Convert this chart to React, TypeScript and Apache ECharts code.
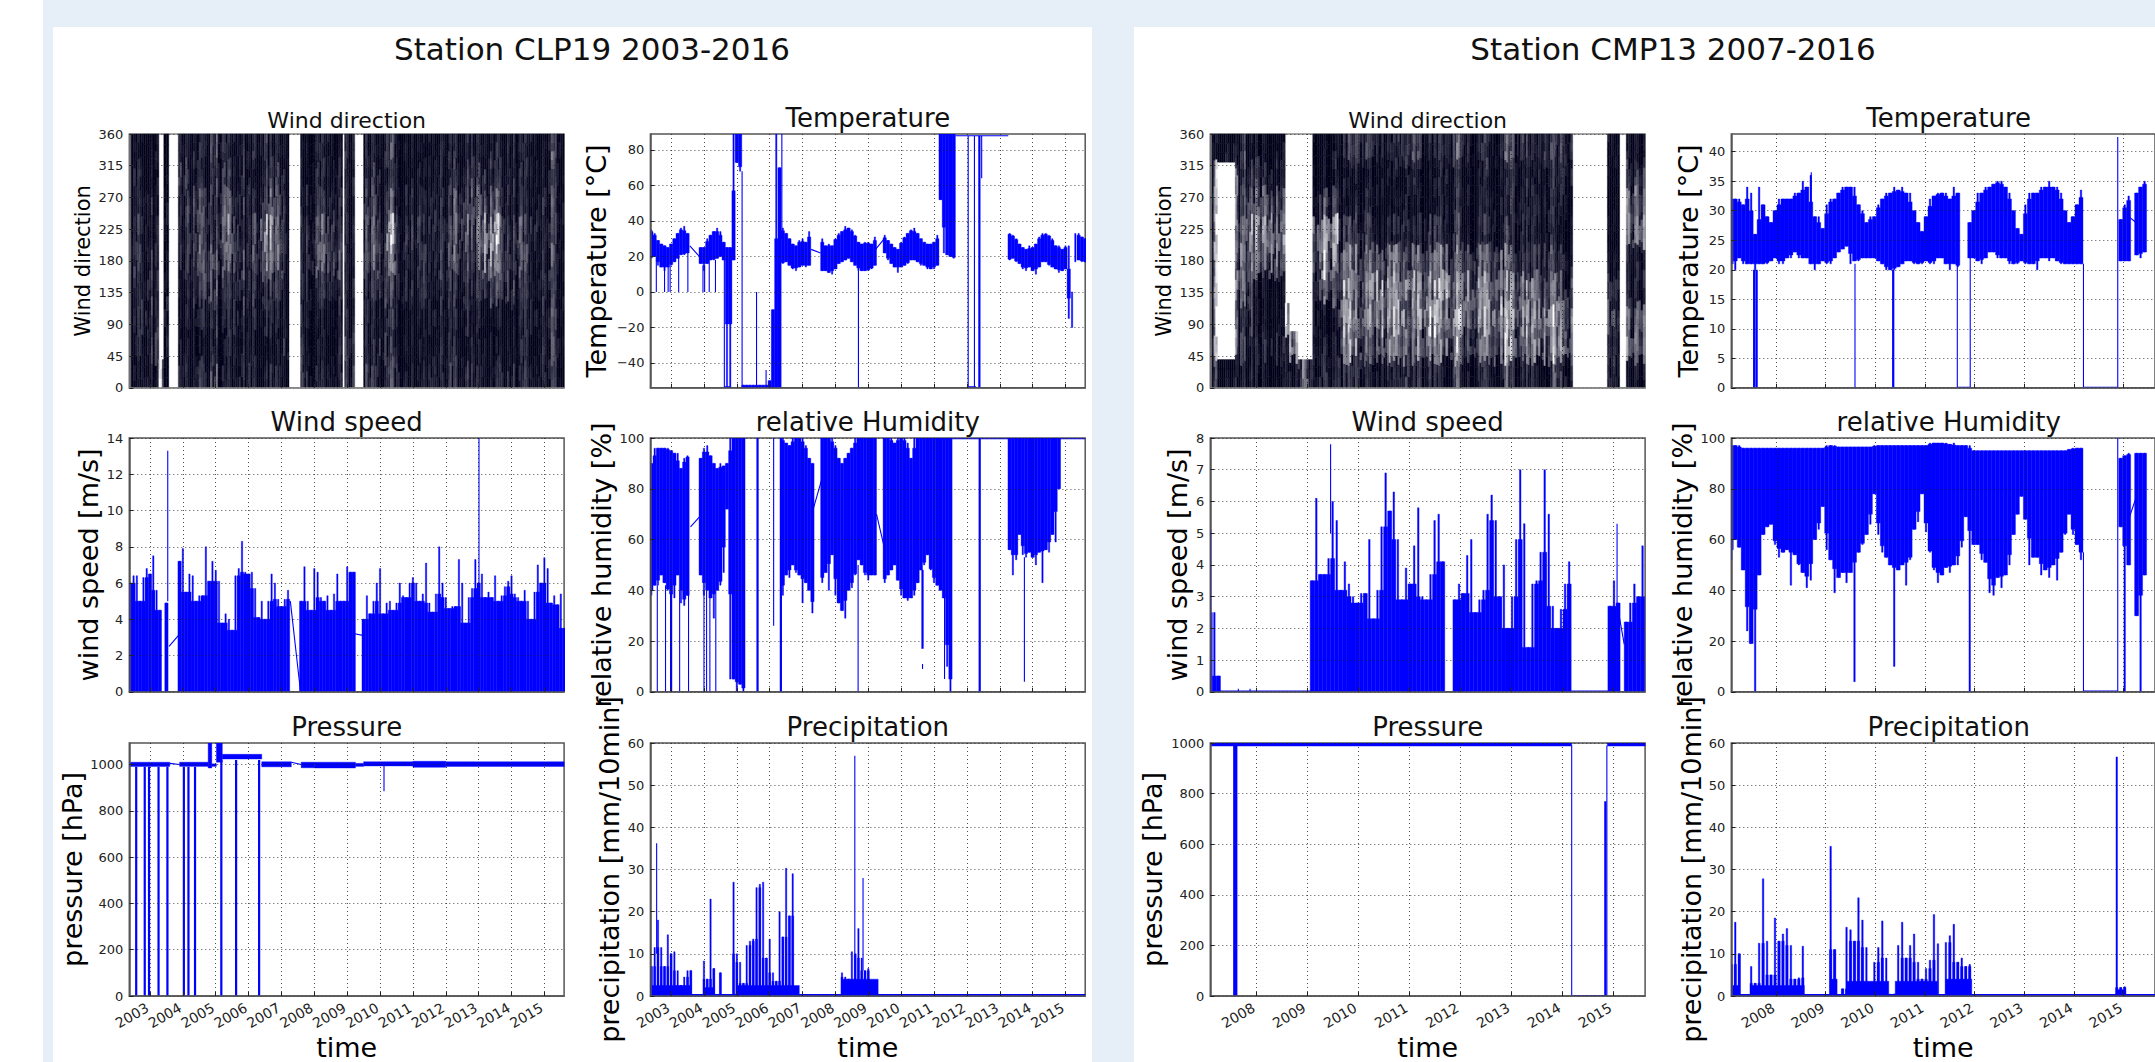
import React, { useEffect, useRef } from "react";
import * as echarts from "echarts";

// ---------- axes ----------
const clpRange = [2002.37, 2015.6];
const cmpRange = [2007.1, 2015.63];
const clpYears = [2003, 2004, 2005, 2006, 2007, 2008, 2009, 2010, 2011, 2012, 2013, 2014, 2015];
const cmpYears = [2008, 2009, 2010, 2011, 2012, 2013, 2014, 2015];
const dirTicks = [0, 45, 90, 135, 180, 225, 270, 315, 360];
const clpStep = 0.1;
const cmpStep = 0.08;

// ---------- wind direction: share of the sector filled with points (0-9), per period, bottom sector first ----------
const dirRowEdges = [0, 40, 80, 120, 160, 200, 240, 280, 320, 360];
const clpDirStarts = [2002.37, 2002.57, 2002.74, 2002.92, 2003.09, 2003.27, 2003.42, 2003.57, 2003.86, 2004.14, 2004.37, 2004.61, 2004.84, 2005.07, 2005.31, 2005.54, 2005.71, 2005.89, 2006.12, 2006.36, 2006.59, 2006.82, 2007.06, 2007.23, 2007.58, 2007.75, 2007.93, 2008.16, 2008.4, 2008.63, 2008.86, 2008.92, 2009.23, 2009.5, 2009.74, 2009.97, 2010.2, 2010.49, 2010.78, 2011.02, 2011.25, 2011.48, 2011.72, 2012.01, 2012.24, 2012.47, 2012.71, 2012.94, 2013.17, 2013.41, 2013.64, 2013.87, 2014.11, 2014.34, 2014.57, 2014.81, 2015.13, 2015.27, 2015.5, 2015.6];
const clpDirCols = ["998878889", "988877889", "887888899", "877778899", "978888999", "100000000", "877788889", "000000000", "899988878", "898776688", "798756678", "898667798", "687657776", "898765577", "888754578", "877756788", "787767777", "899888899", "898766898", "898743677", "898743578", "898755678", "878887788", "000000000", "778888999", "898877899", "899866788", "899755788", "899756788", "888867889", "000000000", "778888888", "000000000", "788866788", "788755678", "878677888", "677632576", "899888999", "999887899", "999887899", "899778899", "788877788", "888877888", "788766788", "788755578", "798765678", "889876678", "898754578", "899632578", "899632578", "899766889", "899777888", "888765788", "788767888", "898887888", "888888899", "665655565", "777777777", "888888888"];
const cmpDirStarts = [2007.1, 2007.17, 2007.24, 2007.59, 2007.65, 2007.77, 2007.8, 2007.94, 2008.12, 2008.29, 2008.43, 2008.57, 2008.65, 2008.82, 2009.03, 2009.11, 2009.24, 2009.45, 2009.55, 2009.62, 2009.66, 2009.8, 2009.94, 2010.08, 2010.22, 2010.36, 2010.5, 2010.64, 2010.78, 2010.92, 2011.02, 2011.16, 2011.3, 2011.44, 2011.58, 2011.72, 2011.86, 2012.0, 2012.14, 2012.28, 2012.42, 2012.56, 2012.7, 2012.84, 2012.98, 2013.12, 2013.26, 2013.4, 2013.54, 2013.68, 2013.82, 2013.96, 2014.1, 2014.21, 2014.89, 2015.05, 2015.13, 2015.26, 2015.63];
const cmpDirCols = ["877777778", "622222229", "900000009", "712222227", "978545788", "878565666", "887643579", "989943579", "989953589", "989943589", "989954689", "992000000", "930000000", "400000000", "800000000", "878754899", "789522699", "899532699", "899742789", "565566788", "843347998", "732346996", "533346785", "854457897", "964358997", "953359998", "843358998", "843348998", "732347896", "523246775", "854358986", "743358997", "732357998", "842347998", "843247887", "943158887", "522346775", "963469997", "964469998", "853358898", "743357887", "843458898", "953459998", "522346885", "733368776", "854478897", "843478887", "843478898", "943578887", "953568887", "522478876", "733679876", "844689987", "000000000", "765689998", "876789998", "000000000", "945884479"];
// fixed tone offsets that break a sector cell into fine streaks, as the dense points do in the picture
const streakTones = [0.25, -0.2, 0.1, -0.35, 0.2, 0, -0.15, 0.3, -0.25, 0.15, -0.05, 0.12, -0.3];

// ---------- CLP19 temperature ----------
const clpTempStarts = [2002.4, 2003.9, 2005.2, 2006.0, 2006.4, 2007.6, 2009.5, 2011.2, 2013.3];
const clpTempHi = [
  [35, 33, 29, 27, 26, 25, 27, 30, 33, 36, 37, 33],
  [25, 25, 30, 32, 34, 36, 34, 28, 25, 25, 89, 89, 89],
  [-52.5, -52.5, -52.5, -52.5, -52.5, -52.5, -52.5, -52.5],
  [-50, -10, 89, 70],
  [36, 33, 30, 27, 26, 29, 30, 28, 34],
  [30, 26, 27, 26, 30, 33, 34, 37, 36, 35, 32, 28, 27, 28, 28, 27, 31],
  [32, 29, 27, 25, 24, 28, 31, 33, 35, 36, 33, 30, 28, 27, 27, 28, 32],
  [89, 89, 89, 89, 89],
  [33, 32, 30, 27, 25, 24, 26, 25, 27, 31, 33, 33, 32, 30, 26, 26, 24, 26, 26, 0, 33, 33, 31, 30],
];
const clpTempLo = [
  [19, 20, 15, 14, 12, 14, 15, 17, 19, 21, 21, 22],
  [16, 12, 16, 18, 18, 19, 20, 18, -54, -54, 18, 73, 68],
  [-54, -54, -54, -54, -54, -54, -54, -54],
  [-54, -54, -54, -54],
  [16, 17, 15, 13, 12, 14, 15, 14, 15],
  [12, 12, 11, 10, 13, 16, 17, 18, 19, 17, 15, 12, 12, 12, 12, 13, 15],
  [22, 18, 16, 14, 11, 14, 15, 16, 18, 18, 17, 15, 15, 13, 13, 13, 15],
  [52, 22, 21, 20, 19],
  [18, 19, 17, 16, 13, 12, 14, 12, 10, 14, 17, 17, 15, 14, 13, 11, 12, 13, -15, -20, 17, 18, 17, 17],
];
const clpTempLines = [
  [[2002.55, 20], [2002.55, 0]], [[2002.8, 20], [2002.8, 0]], [[2002.91, 15], [2002.91, 0]], [[2002.97, 15], [2002.97, 0]],
  [[2003.23, 20], [2003.23, 0]], [[2003.51, 22], [2003.51, 0]], [[2003.97, 15], [2003.97, 0]], [[2004.02, 15], [2004.02, 0]],
  [[2004.16, 18], [2004.16, 0]], [[2004.35, 18], [2004.35, 0]],
  [[2003.57, 26], [2003.86, 20]], [[2004.62, 20], [2004.62, -53.5], [2004.82, -53.5]],
  [[2005.16, 68], [2005.16, -54]], [[2005.6, 0], [2005.6, -54]], [[2005.89, -44], [2005.89, -54]],
  [[2006.37, 89], [2006.37, 30]], [[2008.7, 12], [2008.7, -54]],
  [[2007.26, 24], [2007.55, 22]], [[2009.22, 24], [2009.49, 30]],
  [[2011.66, 88], [2013.26, 88]], [[2012.04, 88], [2012.04, -53.5], [2012.28, -53.5]], [[2012.23, 88], [2012.23, -53.5]],
  [[2012.45, 88], [2012.45, 64]],
];
const clpTempThick = [[[2012.38, 88], [2012.38, -54]]];

// ---------- CLP19 wind speed ----------
const clpWindStarts = [2002.4, 2003.5, 2003.9, 2007.6, 2009.5];
const clpWindHi = [
  [6.0, 6.4, 6.4, 5.0, 6.3, 6.8, 6.5, 7.5, 5.6, 4.5],
  [4.9],
  [7.2, 7.9, 5.5, 6.5, 6.4, 5, 5.3, 5.3, 8, 6.1, 7.2, 6.7, 6.1, 3.8, 4.3, 4, 3.4, 6.4, 6.8, 8.3, 6.6, 6.5, 6.6, 5.7, 4.1, 5, 4, 5, 6.5, 6, 5.1, 4.7, 5.1, 5.6],
  [5, 6.9, 5, 4.5, 6.8, 6.6, 5.2, 5, 5.3, 4.5, 5.4, 6.5, 5, 5, 6.9, 6.6, 6.6],
  [4, 5.3, 4.3, 5, 6, 6.8, 4.3, 4.9, 5, 4.5, 4.9, 6, 5.3, 5.2, 6, 6.3, 6, 5, 5.4, 7.1, 4.9, 4.4, 5.4, 8, 6, 5.2, 4.6, 4.7, 4.7, 7.3, 6, 3.8, 5.2, 5.7, 7.3, 6, 6.5, 5.2, 5.5, 5.2, 6.4, 5, 5.3, 5.8, 6.1, 6.4, 5.4, 5.2, 5, 5.6, 5, 4, 5.5, 7, 6, 7.4, 6.8, 4.9, 5.3, 4.8, 5.4, 3.5],
];
const clpWindLines = [
  [[2003.54, 5], [2003.54, 13.3]], [[2013.01, 6], [2013.01, 14]],
  [[2003.58, 2.5], [2003.86, 3.1]], [[2007.27, 5], [2007.58, 0]], [[2009.23, 3.2], [2009.51, 3.1]],
];

// ---------- CLP19 pressure ----------
const clpPressBands = [
  [2002.37, 2003.6, 992, 1010], [2003.9, 2004.77, 992, 1010], [2004.77, 2004.88, 985, 1093], [2004.88, 2005.02, 992, 1003],
  [2005.02, 2005.2, 1010, 1093], [2005.2, 2006.4, 1024, 1044], [2006.4, 2007.3, 990, 1012], [2007.6, 2008.0, 986, 1010],
  [2008.0, 2009.25, 985, 1010], [2009.25, 2009.5, 992, 1005], [2009.5, 2011.0, 994, 1012], [2011.0, 2012.0, 988, 1014], [2012.0, 2015.6, 992, 1012],
];
const clpPressLines = [
  [[2003.6, 1005], [2003.9, 1000]], [[2007.3, 1010], [2007.6, 1000]], [[2010.12, 1000], [2010.12, 885]],
];
const clpPressThick = [
  [[2002.58, 990], [2002.58, 0]], [[2002.84, 990], [2002.84, 0]], [[2002.97, 990], [2002.97, 0]], [[2003.26, 990], [2003.26, 0]],
  [[2003.53, 990], [2003.53, 0]], [[2004.03, 990], [2004.03, 0]], [[2004.17, 990], [2004.17, 0]], [[2004.37, 990], [2004.37, 0]],
  [[2005.17, 1020], [2005.17, 0]], [[2005.62, 1020], [2005.62, 0]], [[2006.32, 1020], [2006.32, 0]],
];

// ---------- CLP19 relative humidity ----------
const clpHumStarts = [2002.4, 2003.9, 2006.4, 2007.6, 2009.5, 2013.3];
const clpHumHi = [
  [90, 96, 96, 96, 96, 96, 95, 94, 94, 88, 92, 93],
  [92, 96, 97, 93, 90, 88, 90, 89, 90, 100, 100, 100, 100, 100],
  [100, 98, 97, 100, 100, 100, 100, 97, 92, 90],
  [100, 100, 100, 100, 97, 92, 90, 92, 94, 96, 100, 100, 100, 100, 100, 100, 100],
  [100, 100, 100, 98, 100, 100, 100, 98, 92, 100, 100, 100, 100, 100, 100, 100, 100, 100, 100, 100, 100],
  [100, 100, 100, 100, 100, 100, 100, 100, 100, 100, 100, 100, 100, 100, 100, 100],
];
const clpHumLo = [
  [38, 42, 42, 46, 43, 40, 38, 37, 46, 35, 34, 38],
  [46, 38, 40, 37, 29, 40, 42, 47, 72, 5, 5, 0, 3, 0],
  [38, 46, 45, 50, 47, 46, 35, 43, 40, 31],
  [43, 47, 40, 54, 38, 35, 32, 29, 40, 41, 46, 52, 50, 46, 44, 46, 46],
  [43, 46, 48, 50, 44, 38, 37, 36, 37, 38, 43, 48, 50, 54, 48, 43, 42, 40, 37, 10, 0],
  [56, 46, 52, 62, 54, 53, 55, 53, 50, 55, 43, 56, 55, 62, 59, 80],
];
const clpHumLines = [
  [[2002.58, 42], [2002.58, 0]], [[2002.83, 42], [2002.83, 0]], [[2003.26, 40], [2003.26, 0]], [[2003.53, 40], [2003.53, 0]],
  [[2004.0, 40], [2004.0, 0]], [[2004.08, 40], [2004.08, 0]], [[2004.18, 40], [2004.18, 0]], [[2004.36, 40], [2004.36, 0]],
  [[2006.12, 100], [2006.12, 26]], [[2008.69, 50], [2008.69, 0]], [[2010.65, 11], [2010.65, 9]], [[2011.32, 37], [2011.32, 5]], [[2013.75, 53], [2013.75, 4]],
  [[2003.59, 65], [2003.87, 69]], [[2007.28, 70], [2007.59, 84]], [[2009.25, 70], [2009.52, 55]],
  [[2011.55, 99.7], [2013.3, 99.7]], [[2014.82, 99.7], [2015.6, 99.7]],
];
const clpHumThick = [
  [[2003.0, 40], [2003.0, 0]], [[2005.63, 100], [2005.63, 0]], [[2006.34, 100], [2006.34, 0]], [[2010.65, 48], [2010.65, 17]], [[2012.39, 100], [2012.39, 0]],
];

// ---------- CLP19 precipitation ----------
const clpRainStarts = [2002.4, 2004.0, 2004.5, 2004.9, 2008.2];
const clpRainHi = [
  [7, 11.5, 18, 11.5, 7, 14.5, 10, 10.5, 6, 2.5, 4.5, 6, 6],
  [8.3, 4, 23, 6.5],
  [5.5],
  [27, 10, 8, 3, 12, 13, 13.5, 25.7, 26.5, 27, 9, 13.5, 5.5, 3.5, 20, 14, 30.3, 19, 29],
  [5.5, 4.5, 4, 10.5, 10, 16, 9, 6, 6.5],
];
const clpRainBase = [[2002.4, 2003.6, 0, 2.5], [2004.0, 2004.3, 0, 2], [2005.0, 2006.9, 0, 2.5], [2008.2, 2009.3, 0, 4]];
const clpRainLines = [[[2002.56, 10], [2002.56, 36.2]], [[2008.59, 10], [2008.59, 57]], [[2008.84, 6], [2008.84, 28]]];
const clpRainThick = [[[2002.37, 0.2], [2015.6, 0.2]]];

// ---------- CMP13 temperature ----------
const cmpTempStarts = [2007.1, 2011.9, 2014.94, 2015.26];
const cmpTempHi = [
  [32, 32, 32, 31, 34, 33, 26, 34, 31, 29, 28, 30, 32, 32, 32, 32, 33, 33, 35, 34, 36, 29, 29, 27, 31, 32, 32, 33, 34, 34, 34, 34, 31, 30, 28, 29, 29, 31, 32, 33, 33, 34, 33.5, 34, 33, 33, 30, 28, 26.5, 29, 32, 32.5, 33, 33, 33, 32, 34, 33],
  [28, 30, 33, 33, 34, 34, 34.5, 35, 35, 34, 33, 30, 27, 26, 31, 33, 33, 33, 34, 34, 35, 34, 34, 33, 30, 28, 29, 31, 33.5],
  [28.5, 31, 32.5],
  [33, 34, 35],
];
const cmpTempLo = [
  [21, 20, 22, 21, 21, 21, 20, 21, 21, 21, 21.5, 22, 21, 21, 22, 22, 23, 22, 22, 22, 21, 20, 21, 21.5, 21, 21, 22, 23, 23.5, 24, 21, 21.5, 21.5, 22, 22, 22, 22, 21.5, 21, 20, 20, 20, 20.5, 21, 21.5, 21.5, 21, 21, 21, 21.5, 21, 21, 22, 22, 21, 20, 21, 20.5],
  [22, 22, 21.5, 21, 22, 23, 23, 22, 22, 22, 21, 21, 21, 21.5, 21, 21, 21, 20, 22, 22, 21.5, 22, 21.5, 21, 21, 21, 21, 21, 21],
  [21.5, 21.5, 21.5],
  [22.5, 22, 23],
];
const cmpTempLines = [
  [[2009.59, 21], [2009.59, 0]], [[2010.36, 20], [2010.36, 0]],
  [[2011.65, 21], [2011.65, 0.1], [2011.91, 0.1], [2011.91, 22]],
  [[2014.19, 21], [2014.19, 0.1], [2014.88, 0.1], [2014.88, 42.5]],
  [[2008.71, 30], [2008.71, 36.5]], [[2015.1, 29], [2015.25, 28]],
];
const cmpTempThick = [[[2007.56, 20], [2007.56, 0]], [[2007.61, 20], [2007.61, 0]], [[2010.36, 20], [2010.36, 0]]];

// ---------- CMP13 wind speed ----------
const cmpWindStarts = [2007.1, 2009.1, 2011.9, 2014.94, 2015.26];
const cmpWindHi = [
  [5.1, 2.5, 0.5],
  [3.5, 6.1, 3.7, 3.7, 4.2, 6.0, 5.4, 3.2, 4.1, 3.4, 3.0, 2.8, 3.1, 3.1, 4.8, 2.3, 3.2, 5.2, 6.9, 5.7, 6.3, 4.8, 2.9, 3.9, 3.4, 4.6, 5.8, 3.0, 2.9, 3.7, 5.4, 5.6, 4.1],
  [2.9, 3.4, 3.1, 4.3, 4.8, 2.5, 2.9, 3.2, 5.6, 6.2, 5.4, 3.0, 4.0, 2.0, 3.0, 4.8, 7.0, 5.3, 1.4, 3.4, 3.5, 4.4, 7.0, 5.6, 2.7, 2.0, 2.6, 3.4, 4.1],
  [2.7, 3.5, 2.8],
  [2.2, 2.8, 3.4, 3.0, 4.6],
];
const cmpWindLines = [
  [[2007.25, 0.02], [2009.1, 0.02]], [[2007.65, 0], [2007.65, 0.1]], [[2007.88, 0], [2007.88, 0.1]],
  [[2014.18, 0.02], [2014.94, 0.02]], [[2009.46, 5], [2009.46, 7.8]], [[2015.08, 2.8], [2015.08, 5.3]], [[2015.11, 2.5], [2015.22, 1.5]],
];

// ---------- CMP13 pressure ----------
const cmpPressBands = [[2007.1, 2014.19, 988, 1000], [2014.89, 2015.63, 988, 1000]];
const cmpPressLines = [[[2014.19, 990], [2014.19, 2], [2014.88, 2], [2014.88, 990]]];
const cmpPressThick = [[[2007.57, 990], [2007.57, 0]], [[2007.61, 990], [2007.61, 0]], [[2014.85, 770], [2014.85, 0]]];

// ---------- CMP13 relative humidity ----------
const cmpHumStarts = [2007.1, 2014.94, 2015.26];
const cmpHumHi = [
  [97, 97, 97, 96, 96, 96, 96, 96, 96, 96, 96, 96, 96, 96, 96, 96, 96, 96, 96, 96, 96, 96, 96, 96, 97, 97, 97, 96.5, 96.5, 96.5, 96.5, 96.5, 96.5, 96.5, 96.5, 96.5, 97, 97, 97, 97, 97, 97, 97, 97, 97, 97, 97, 97, 97, 97, 98, 98, 98, 98, 98, 97.5, 98, 97, 97, 97, 97, 95, 95, 95, 95, 95, 95, 95, 95, 95, 95, 95, 95, 95, 95, 95, 95, 95, 95, 95, 95, 95, 95, 95, 95, 95.5, 96, 96, 96],
  [92, 93, 94],
  [94, 94, 94],
];
const cmpHumLo = [
  [52, 60, 57, 48, 24, 19, 0, 46, 62, 65, 66, 58, 53, 55, 56, 42, 54, 50, 47, 41, 44, 60, 64, 73, 56, 52, 39, 45, 47, 43, 47, 4, 55, 58, 62, 66, 78, 62, 55, 53, 50, 10, 48, 50, 42, 52, 64, 67, 78, 63, 55, 48, 43, 46, 49, 47, 50, 50, 57, 69, 0, 58, 58, 52, 51, 39, 38, 45, 41, 46, 50, 62, 70, 77, 68, 50, 53, 53, 46, 48, 45, 50, 44, 55, 62, 70, 62, 58, 52],
  [65, 0, 50],
  [30, 0, 46],
];
const cmpHumLines = [[[2014.19, 55], [2014.19, 0.3], [2014.88, 0.3], [2014.88, 100]], [[2015.1, 68], [2015.24, 76]]];

// ---------- CMP13 precipitation ----------
const cmpRainStarts = [2007.1, 2007.5, 2009.1, 2009.34, 2014.86];
const cmpRainHi = [
  [7.5, 17.5, 10],
  [7, 3, 12.5, 27.8, 13, 5, 18.5, 13, 14.7, 16, 12, 4, 4.3, 11.8],
  [35.5, 11],
  [1.7, 16.3, 15.7, 13, 23.3, 18, 11.5, 3, 8, 11.5, 17.8, 9, 0.4, 0.5, 12, 17.5, 9, 12, 14.7, 8, 4, 6.5, 8.5, 19.3, 12.4, 0, 12.7, 14.3, 17, 8, 9, 7, 7.5],
  [56.7, 2, 2.2],
];
const cmpRainBase = [[2007.1, 2007.25, 0, 2.5], [2007.5, 2008.57, 0, 2.5], [2009.1, 2009.23, 0, 4], [2009.42, 2010.27, 0, 3.5], [2010.4, 2011.25, 0, 3.5], [2011.42, 2011.94, 0, 4], [2014.86, 2015.02, 0, 1.5]];
const cmpRainThick = [[[2007.1, 0.2], [2015.63, 0.2]]];

// ---------- drawing ----------
const BLUE = -1;
const FONT = "DejaVu Sans";

function barCells(starts: number[], hi: number[][], lo: number[][] | null, step: number, frac: number, stick: number) {
  const out: number[][] = [];
  starts.forEach((s, k) => {
    const H_ = hi[k];
    const L_ = lo ? lo[k] : null;
    H_.forEach((h, i) => {
      const x = s + i * step;
      const l = L_ ? L_[i] : 0;
      const hp = i > 0 ? H_[i - 1] : h;
      const hn = i < H_.length - 1 ? H_[i + 1] : h;
      let top = L_ ? Math.min(h, (hp + hn) / 2) : Math.min(h, hp, hn);
      let bot = l;
      if (L_) {
        const lp = i > 0 ? L_[i - 1] : l;
        const ln = i < L_.length - 1 ? L_[i + 1] : l;
        bot = Math.max(l, (lp + ln) / 2);
      }
      if (bot < top) out.push([x - (step * frac) / 2, x + (step * frac) / 2, bot, top, BLUE]);
      out.push([x - stick / 2, x + stick / 2, l, h, BLUE]);
    });
  });
  return out;
}
function dirCells(starts: number[], cols: string[], stripe: number) {
  const out: number[][] = [];
  const L = streakTones.length;
  cols.forEach((col, c) => {
    const n = Math.max(1, Math.round((starts[c + 1] - starts[c]) / stripe));
    const w = (starts[c + 1] - starts[c]) / n;
    for (let s = 0; s < n; s++) {
      const streak = streakTones[(s * 7 + c * 5) % L];
      // sector borders are staggered stripe by stripe so that they do not read as straight rows
      const edges = dirRowEdges.map((e, k) => {
        const inner = k > 0 && k < col.length && col[k - 1] !== "0" && col[k] !== "0";
        return inner ? e + streakTones[(s * 7 + c * 5 + k * 11) % L] * 28 : e;
      });
      for (let r = 0; r < col.length; r++) {
        const d = Number(col[r]);
        if (d <= 0) continue;
        const tone = Math.pow(d / 9, 0.5);
        const dy = (edges[r + 1] - edges[r]) / 3;
        for (let u = 0; u < 3; u++) {
          const fine = streakTones[(s * s + r * 3 + u * 4 + c) % L];
          const dev = streak * 0.75 + fine * 0.5;
          const t = Math.max(0, Math.min(1, tone + dev * (1.2 - tone) * 1.8));
          out.push([starts[c] + s * w, starts[c] + (s + 1) * w, edges[r] + u * dy, edges[r] + (u + 1) * dy, t]);
        }
      }
    }
  });
  return out;
}
function flat(lines: number[][][] | undefined) {
  const out: (number | null)[][] = [];
  (lines || []).forEach((l) => {
    l.forEach((p) => out.push(p));
    out.push([l[0][0], null]);
  });
  return out;
}
function cellColor(t: number) {
  if (t === BLUE) return "#0000ff";
  const a = Math.round(255 * (1 - t));
  const b = Math.round(255 - (255 - 26) * t);
  return `rgb(${a},${a},${b})`;
}
const renderCell = (_: any, api: any) => {
  const a = api.coord([api.value(0), api.value(3)]);
  const b = api.coord([api.value(1), api.value(2)]);
  const c = cellColor(api.value(4));
  return { type: "rect", shape: { x: a[0], y: a[1], width: b[0] - a[0], height: b[1] - a[1] }, style: { fill: c, stroke: c, lineWidth: 0.4 } };
};

const columns = { clp: [129.3, 650.4], cmp: [1210.3, 1731.3] };
const rowsTop = [134, 438, 743];
const W = 434.8;
const H = 253.8;
const clpStick = 0.04;
const cmpStick = 0.03;

const panels: any[] = [
  { x: columns.clp[0], y: rowsTop[0], range: clpRange, years: clpYears, yMin: 0, yMax: 360, yTicks: dirTicks, title: "Wind direction", titleSize: 22, name: "Wind direction", nameSize: 21, gap: 36, cells: dirCells(clpDirStarts, clpDirCols, 0.06), spine: "#888" },
  { x: columns.clp[1], y: rowsTop[0], range: clpRange, years: clpYears, yMin: -54, yMax: 89, yTicks: [-40, -20, 0, 20, 40, 60, 80], title: "Temperature", titleSize: 26, name: "Temperature [°C]", nameSize: 27, gap: 40, cells: barCells(clpTempStarts, clpTempHi, clpTempLo, clpStep, 1, clpStick), lines: clpTempLines, thick: clpTempThick },
  { x: columns.clp[0], y: rowsTop[1], range: clpRange, years: clpYears, yMin: 0, yMax: 14, yTicks: [0, 2, 4, 6, 8, 10, 12, 14], title: "Wind speed", titleSize: 26, name: "wind speed [m/s]", nameSize: 27, gap: 27, cells: barCells(clpWindStarts, clpWindHi, null, clpStep, 1, clpStick), lines: clpWindLines },
  { x: columns.clp[1], y: rowsTop[1], range: clpRange, years: clpYears, yMin: 0, yMax: 100, yTicks: [0, 20, 40, 60, 80, 100], title: "relative Humidity", titleSize: 26, name: "relative humidity [%]", nameSize: 27, gap: 35, cells: barCells(clpHumStarts, clpHumHi, clpHumLo, clpStep, 1, clpStick), lines: clpHumLines, thick: clpHumThick },
  { x: columns.clp[0], y: rowsTop[2], range: clpRange, years: clpYears, yMin: 0, yMax: 1093, yTicks: [0, 200, 400, 600, 800, 1000], title: "Pressure", titleSize: 26, name: "pressure [hPa]", nameSize: 27, gap: 42, cells: clpPressBands.map((b) => [...b, BLUE]), lines: clpPressLines, thick: clpPressThick, time: true },
  { x: columns.clp[1], y: rowsTop[2], range: clpRange, years: clpYears, yMin: 0, yMax: 60, yTicks: [0, 10, 20, 30, 40, 50, 60], title: "Precipitation", titleSize: 26, name: "precipitation [mm/10min]", nameSize: 27, gap: 27, cells: [...barCells(clpRainStarts, clpRainHi, null, clpStep, 0.6, clpStick), ...clpRainBase.map((b) => [...b, BLUE])], lines: clpRainLines, thick: clpRainThick, time: true },
  { x: columns.cmp[0], y: rowsTop[0], range: cmpRange, years: cmpYears, yMin: 0, yMax: 360, yTicks: dirTicks, title: "Wind direction", titleSize: 22, name: "Wind direction", nameSize: 21, gap: 36, cells: dirCells(cmpDirStarts, cmpDirCols, 0.04), spine: "#888" },
  { x: columns.cmp[1], y: rowsTop[0], range: cmpRange, years: cmpYears, yMin: 0, yMax: 43, yTicks: [0, 5, 10, 15, 20, 25, 30, 35, 40], title: "Temperature", titleSize: 26, name: "Temperature [°C]", nameSize: 27, gap: 29, cells: barCells(cmpTempStarts, cmpTempHi, cmpTempLo, cmpStep, 1, cmpStick), lines: cmpTempLines, thick: cmpTempThick },
  { x: columns.cmp[0], y: rowsTop[1], range: cmpRange, years: cmpYears, yMin: 0, yMax: 8, yTicks: [0, 1, 2, 3, 4, 5, 6, 7, 8], title: "Wind speed", titleSize: 26, name: "wind speed [m/s]", nameSize: 27, gap: 19, cells: barCells(cmpWindStarts, cmpWindHi, null, cmpStep, 1, cmpStick), lines: cmpWindLines },
  { x: columns.cmp[1], y: rowsTop[1], range: cmpRange, years: cmpYears, yMin: 0, yMax: 100, yTicks: [0, 20, 40, 60, 80, 100], title: "relative Humidity", titleSize: 26, name: "relative humidity [%]", nameSize: 27, gap: 35, cells: barCells(cmpHumStarts, cmpHumHi, cmpHumLo, cmpStep, 1, cmpStick), lines: cmpHumLines },
  { x: columns.cmp[0], y: rowsTop[2], range: cmpRange, years: cmpYears, yMin: 0, yMax: 1000, yTicks: [0, 200, 400, 600, 800, 1000], title: "Pressure", titleSize: 26, name: "pressure [hPa]", nameSize: 27, gap: 44, cells: cmpPressBands.map((b) => [...b, BLUE]), lines: cmpPressLines, thick: cmpPressThick, time: true },
  { x: columns.cmp[1], y: rowsTop[2], range: cmpRange, years: cmpYears, yMin: 0, yMax: 60, yTicks: [0, 10, 20, 30, 40, 50, 60], title: "Precipitation", titleSize: 26, name: "precipitation [mm/10min]", nameSize: 27, gap: 26, cells: [...barCells(cmpRainStarts, cmpRainHi, null, cmpStep, 0.6, cmpStick), ...cmpRainBase.map((b) => [...b, BLUE])], thick: cmpRainThick, time: true },
];

function buildOption() {
  const spineColor = "#555";
  const grid = panels.map((p) => ({ left: p.x, top: p.y, width: W, height: H, show: true, borderColor: p.spine || spineColor, borderWidth: 1.5, backgroundColor: "transparent" }));
  const gridLine = { show: true, lineStyle: { color: "#222", width: 0.8, type: [1, 3] as any } };
  const xAxis = panels.map((p, i) => ({
    type: "value", gridIndex: i, min: p.range[0], max: p.range[1], z: 5,
    axisLine: { show: true, onZero: false, lineStyle: { color: p.spine || spineColor, width: 1.5 } },
    axisTick: { show: true, inside: true, length: 4, customValues: p.years, lineStyle: { color: "#222" } },
    axisLabel: p.time
      ? { show: true, customValues: p.years, rotate: 30, margin: 9, padding: [0, 3, 0, 0], fontFamily: FONT, fontSize: 14, color: "#222", formatter: (v: number) => String(v) }
      : { show: false },
    splitLine: gridLine,
    name: p.time ? "time" : "", nameLocation: "middle", nameGap: 38,
    nameTextStyle: { fontFamily: FONT, fontSize: 27, color: "#000" },
  }));
  const yAxis = panels.map((p, i) => ({
    type: "value", gridIndex: i, min: p.yMin, max: p.yMax, z: 5,
    axisLine: { show: true, onZero: false, lineStyle: { color: p.spine || spineColor, width: 1.5 } },
    axisTick: { show: true, inside: true, length: 4, customValues: p.yTicks, lineStyle: { color: "#222" } },
    axisLabel: { show: true, customValues: p.yTicks, margin: 6, fontFamily: FONT, fontSize: 13, color: "#222", formatter: (v: number) => String(v).replace("-", "\u2212") },
    splitLine: gridLine,
    name: p.name, nameLocation: "middle", nameRotate: 90, nameGap: p.gap,
    nameTextStyle: { fontFamily: FONT, fontSize: p.nameSize, color: "#000" },
  }));
  const series: any[] = [];
  panels.forEach((p, i) => {
    series.push({ type: "custom", xAxisIndex: i, yAxisIndex: i, clip: true, silent: true, data: p.cells, renderItem: renderCell, encode: { x: 0, y: 3 }, z: 2 });
    if (p.lines) series.push({ type: "line", xAxisIndex: i, yAxisIndex: i, data: flat(p.lines), showSymbol: false, silent: true, connectNulls: false, lineStyle: { color: "#0000ff", width: 1.1 }, z: 3 });
    if (p.thick) series.push({ type: "line", xAxisIndex: i, yAxisIndex: i, data: flat(p.thick), showSymbol: false, silent: true, connectNulls: false, lineStyle: { color: "#0000ff", width: 2.2 }, z: 3 });
  });
  const titles: any[] = [
    { text: "Station CLP19 2003-2016", left: 592, top: 33, padding: 0, textAlign: "center", textStyle: { fontFamily: FONT, fontSize: 31, fontWeight: "normal", color: "#111" } },
    { text: "Station CMP13 2007-2016", left: 1673, top: 33, padding: 0, textAlign: "center", textStyle: { fontFamily: FONT, fontSize: 31, fontWeight: "normal", color: "#111" } },
    ...panels.map((p) => ({
      text: p.title, left: p.x + W / 2, top: p.y - p.titleSize - 3, padding: 0, textAlign: "center",
      textStyle: { fontFamily: FONT, fontSize: p.titleSize, fontWeight: "normal", color: "#111" },
    })),
  ];
  const graphic = [
    { type: "rect", z: -10, silent: true, shape: { x: 0, y: 0, width: 43, height: 1062 }, style: { fill: "#ffffff" } },
    { type: "rect", z: -10, silent: true, shape: { x: 53, y: 27, width: 1039, height: 1035 }, style: { fill: "#ffffff" } },
    { type: "rect", z: -10, silent: true, shape: { x: 1134, y: 27, width: 1021, height: 1035 }, style: { fill: "#ffffff" } },
  ];
  return { animation: false, backgroundColor: "#e6eef7", title: titles, grid, xAxis, yAxis, series, graphic };
}

export default function App() {
  const ref = useRef<HTMLDivElement>(null);
  useEffect(() => {
    const chart = echarts.init(ref.current as HTMLDivElement, null, { renderer: "svg" });
    chart.setOption(buildOption() as any);
    return () => chart.dispose();
  }, []);
  return <div ref={ref} style={{ position: "fixed", left: 0, top: 0, width: 2155, height: 1062 }} />;
}
